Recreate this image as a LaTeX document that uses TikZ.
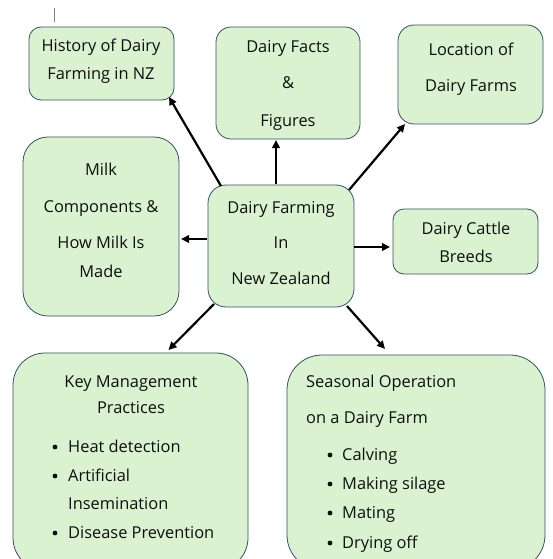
\documentclass[tikz,border=0pt]{standalone}
\usepackage{fontspec}
\setmainfont{Open Sans}
\usetikzlibrary{arrows.meta,calc}
\definecolor{boxfill}{RGB}{218,242,208}
\definecolor{boxline}{RGB}{52,82,96}
\definecolor{txtc}{RGB}{15,15,15}
\tikzset{
  box/.style={draw=boxline, fill=boxfill, line width=0.8pt, inner sep=0pt, outer sep=0pt},
  txt/.style={text=txtc, inner sep=0pt, font=\fontsize{16.4}{19}\selectfont},
  bul/.style={circle, fill=txtc, inner sep=0pt, minimum size=4.8pt},
  arr/.style={line width=2.2pt, line cap=butt, -{Triangle[length=8pt,width=7.5pt]}},
}
\begin{document}
\begin{tikzpicture}[x=1pt,y=-1pt]
\useasboundingbox (0,0) rectangle (552,559);
\clip (0,0) rectangle (552,559);
% cursor mark
\draw[gray, line width=0.8pt] (54,8) -- (54,22);
% boxes
\node[box, minimum width=145pt, minimum height=73pt, rounded corners=12pt] (hist) at (101.5,63.5) {};
\node[box, minimum width=144pt, minimum height=112pt, rounded corners=15pt] (facts) at (288,83) {};
\node[box, minimum width=145pt, minimum height=99pt, rounded corners=16pt] (loc) at (470.5,74.5) {};
\node[box, minimum width=156pt, minimum height=179pt, rounded corners=25pt] (milk) at (101,226.5) {};
\node[box, minimum width=146pt, minimum height=122pt, rounded corners=18pt] (c) at (281,246) {};
\node[box, minimum width=145pt, minimum height=65pt, rounded corners=11pt] (cattle) at (465.5,241.5) {};
\node[box, minimum width=235pt, minimum height=217pt, rounded corners=32pt] (km) at (130.5,461.5) {};
\node[box, minimum width=258pt, minimum height=215pt, rounded corners=35pt] (seas) at (416,462.5) {};
% texts
\node[txt, anchor=base] (hist1) at (101,52) {History of Dairy};
\node[txt, anchor=base] (hist2) at (101,80) {Farming in NZ};
\node[txt, anchor=base] (facts1) at (288,53) {Dairy Facts};
\node[txt, anchor=base] (facts2) at (288,89) {\&};
\node[txt, anchor=base] (facts3) at (288,126) {Figures};
\node[txt, anchor=base] (loc1) at (471,56) {Location of};
\node[txt, anchor=base] (loc2) at (471,92) {Dairy Farms};
\node[txt, anchor=base] (milk1) at (101,175) {Milk};
\node[txt, anchor=base] (milk2) at (101,212) {Components \&};
\node[txt, anchor=base] (milk3) at (101,248) {How Milk Is};
\node[txt, anchor=base] (milk4) at (101,277) {Made};
\node[txt, anchor=base] (c1) at (281,213) {Dairy Farming};
\node[txt, anchor=base] (c2) at (281,248) {In};
\node[txt, anchor=base] (c3) at (281,284) {New Zealand};
\node[txt, anchor=base] (cat1) at (466,234) {Dairy Cattle};
\node[txt, anchor=base] (cat2) at (466,262) {Breeds};
% key management
\node[txt, anchor=base] (km1) at (131,387) {Key Management};
\node[txt, anchor=base] (km2) at (131,413) {Practices};
\node[bul] (kmb1) at (55,447) {};
\node[txt, anchor=base west] (kmt1) at (68,452) {Heat detection};
\node[bul] (kmb2) at (55,476) {};
\node[txt, anchor=base west] (kmt2) at (68,481) {Artificial};
\node[txt, anchor=base west] (kmt3) at (68,509) {Insemination};
\node[bul] (kmb3) at (55,533) {};
\node[txt, anchor=base west] (kmt4) at (68,538) {Disease Prevention};
% seasonal
\node[txt, anchor=base west] (s1) at (306,387) {Seasonal Operation};
\node[txt, anchor=base west] (s2) at (306,423) {on a Dairy Farm};
\node[bul] (sb1) at (330,455) {};
\node[txt, anchor=base west] (st1) at (342,460) {Calving};
\node[bul] (sb2) at (330,484) {};
\node[txt, anchor=base west] (st2) at (342,489) {Making silage};
\node[bul] (sb3) at (330,513) {};
\node[txt, anchor=base west] (st3) at (342,518) {Mating};
\node[bul] (sb4) at (330,543) {};
\node[txt, anchor=base west] (st4) at (342,548) {Drying off};
% arrows
\draw[arr] ($(c.north west)+(13,1)$) -- ($(hist.south east)+(-5,-3)$);
\draw[arr] ($(c.north)+(-5,-1)$) -- ($(facts.south)+(-12,1)$);
\draw[arr] ($(c.north east)+(-5,5)$) -- ($(loc.south west)+(7,0)$);
\draw[arr] ($(c.west)+(-1,-7)$) -- ($(milk.east)+(2,12.5)$);
\draw[arr] ($(c.east)+(0,1)$) -- ($(cattle.west)+(-3,5.5)$);
\draw[arr] ($(c.south west)+(6,-3)$) -- ($(km.north)+(38,-3)$);
\draw[arr] ($(c.south east)+(-7,-1)$) -- ($(seas.north)+(-31,-6)$);
\end{tikzpicture}
\end{document}
